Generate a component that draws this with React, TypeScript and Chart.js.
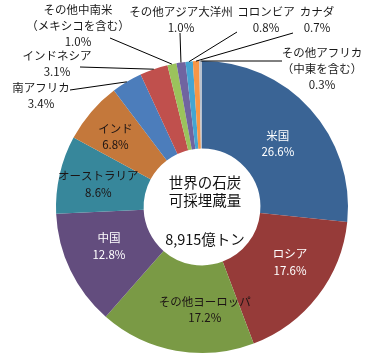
import React, { useEffect, useRef } from "react";
import { Chart, registerables } from "chart.js";
Chart.register(...registerables);

const categories = [
  "米国",
  "ロシア",
  "その他ヨーロッパ",
  "中国",
  "オーストラリア",
  "インド",
  "南アフリカ",
  "インドネシア",
  "その他中南米\n（メキシコを含む）",
  "その他アジア大洋州",
  "コロンビア",
  "カナダ",
  "その他アフリカ\n（中東を含む）",
];
const shares = [26.6, 17.6, 17.2, 12.8, 8.6, 6.8, 3.4, 3.1, 1.0, 1.0, 0.8, 0.7, 0.3];
const colors = [
  "#3a6495",
  "#963b39",
  "#7a9a45",
  "#634d7e",
  "#37879b",
  "#c4783b",
  "#4c7dbb",
  "#c0504d",
  "#9bc35c",
  "#7064a0",
  "#45a5d2",
  "#f79646",
  "#b8c2d0",
];
const centerLines = ["世界の石炭", "可採埋蔵量", "8,915億トン"];

const FONT = '"Noto Sans CJK JP", "Noto Sans", sans-serif';

// label placement styles (not data)
type InStyle = { kind: "in"; dx: number; dy: number; color: string };
type OutStyle = { kind: "out"; x: number; y: number; lx: number; ly: number };
const labelStyles: (InStyle | OutStyle)[] = [
  { kind: "in", dx: 0, dy: 5, color: "#ffffff" },
  { kind: "in", dx: 7, dy: -7, color: "#ffffff" },
  { kind: "in", dx: 21, dy: 2, color: "#1c1414" },
  { kind: "in", dx: -1, dy: -5, color: "#ffffff" },
  { kind: "in", dx: -4, dy: 0, color: "#1c1414" },
  { kind: "in", dx: -9, dy: -4, color: "#1c1414" },
  { kind: "out", x: 41, y: 88, lx: 70, ly: 90 },
  { kind: "out", x: 57, y: 56, lx: 80, ly: 67 },
  { kind: "out", x: 78, y: 10, lx: 110, ly: 38 },
  { kind: "out", x: 181, y: 12, lx: 180, ly: 33 },
  { kind: "out", x: 266, y: 12, lx: 237, ly: 32 },
  { kind: "out", x: 317, y: 12, lx: 293, ly: 33 },
  { kind: "out", x: 322, y: 53, lx: 282, ly: 61 },
];

const labelPlugin = {
  id: "labels",
  afterDatasetsDraw(chart: any) {
    const ctx = chart.ctx as CanvasRenderingContext2D;
    const meta = chart.getDatasetMeta(0);
    ctx.save();
    ctx.textAlign = "center";
    ctx.textBaseline = "middle";
    let cx = 0;
    let cy = 0;
    meta.data.forEach((arc: any, i: number) => {
      const p = arc.getProps(["x", "y", "startAngle", "endAngle", "innerRadius", "outerRadius"], true);
      cx = p.x;
      cy = p.y;
      const mid = (p.startAngle + p.endAngle) / 2;
      const st = labelStyles[i];
      const lines = [...categories[i].split("\n"), `${shares[i].toFixed(1)}%`];
      if (st.kind === "in") {
        const r = (p.innerRadius + p.outerRadius) / 2;
        const x = p.x + Math.cos(mid) * r + st.dx;
        const y = p.y + Math.sin(mid) * r + st.dy;
        ctx.font = `11.5px ${FONT}`;
        ctx.fillStyle = st.color;
        const lh = 16.5;
        lines.forEach((t, k) => {
          ctx.fillText(t, x, y + (k - (lines.length - 1) / 2) * lh);
        });
      } else {
        const ex = p.x + Math.cos(mid) * p.outerRadius;
        const ey = p.y + Math.sin(mid) * p.outerRadius;
        ctx.strokeStyle = "#000000";
        ctx.lineWidth = 1;
        ctx.beginPath();
        ctx.moveTo(ex, ey);
        ctx.lineTo(st.lx, st.ly);
        ctx.stroke();
        ctx.font = `11.5px ${FONT}`;
        ctx.fillStyle = "#1a1a1a";
        const lh = 16;
        lines.forEach((t, k) => {
          ctx.fillText(t, st.x, st.y + k * lh);
        });
      }
    });
    ctx.font = `14.5px ${FONT}`;
    ctx.fillStyle = "#111111";
    ctx.fillText(centerLines[0], cx + 3, cy - 25);
    ctx.fillText(centerLines[1], cx + 3, cy - 7);
    ctx.fillText(centerLines[2], cx + 3, cy + 32);
    ctx.restore();
  },
};

export default function App() {
  const ref = useRef<HTMLCanvasElement>(null);
  useEffect(() => {
    if (!ref.current) return;
    const chart = new Chart(ref.current, {
      type: "doughnut",
      data: {
        labels: categories,
        datasets: [
          {
            data: shares,
            backgroundColor: colors,
            borderWidth: 0,
          },
        ],
      },
      options: {
        responsive: false,
        animation: false,
        cutout: "40%",
        layout: { padding: { top: 61, bottom: 5, left: 56, right: 44 } },
        plugins: {
          legend: { display: false },
          tooltip: { enabled: false },
        },
      },
      plugins: [labelPlugin],
    });
    return () => chart.destroy();
  }, []);
  return (
    <div style={{ position: "absolute", left: 0, top: 0, width: 392, height: 358, background: "#fff" }}>
      <canvas ref={ref} width={392} height={358} />
    </div>
  );
}
